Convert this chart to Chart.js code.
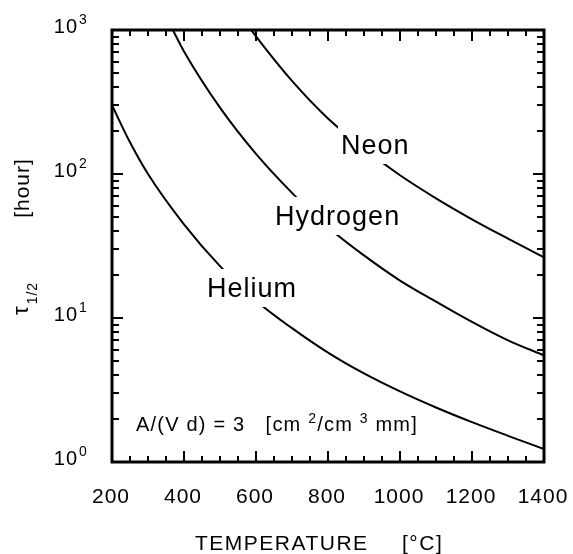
<!DOCTYPE html>
<html>
<head>
<meta charset="utf-8">
<script src="https://cdn.jsdelivr.net/npm/chart.js@4.4.1/dist/chart.umd.min.js"></script>
<style>
  body { margin: 0; background: #fff; }
  canvas { display: block; }
</style>
</head>
<body>
<canvas id="halfLifeChart" width="573" height="554"></canvas>
<script>
// Data (temperature in °C, tau in hours)
const heliumT = [200, 250, 300, 400, 500, 600, 700, 800, 900, 1000, 1100, 1200, 1300, 1400];
const heliumTau = [300, 166, 100, 44.7, 22.9, 13.2, 8.5, 5.75, 4.12, 3.09, 2.39, 1.89, 1.52, 1.23];

const hydrogenT = [369, 400, 500, 600, 700, 800, 900, 1000, 1100, 1200, 1300, 1400];
const hydrogenTau = [1000, 710, 289, 138, 74, 42.7, 27.2, 18.2, 13.0, 9.4, 7.0, 5.5];

const neonT = [587, 600, 700, 800, 900, 1000, 1100, 1200, 1300, 1400];
const neonTau = [1000, 903, 443, 243, 150, 98, 67.8, 48.5, 35.6, 26.4];

const xTicks = [200, 400, 600, 800, 1000, 1200, 1400];
const yTicks = [1, 10, 100, 1000];
const yTickExp = ['0', '1', '2', '3'];

const curveLabels = ['Neon', 'Hydrogen', 'Helium'];

const FONT = '"Liberation Sans", Arial, Helvetica, sans-serif';

function toPoints(xs, ys) {
    return xs.map((v, i) => ({ x: v, y: ys[i] }));
}

function lineSet(label, xs, ys) {
    return {
        label: label,
        data: toPoints(xs, ys),
        borderColor: '#000',
        borderWidth: 2,
        pointRadius: 0,
        fill: false,
        cubicInterpolationMode: 'monotone'
    };
}

// Draws the labels on the curves, inner ticks, frame and all axis text
const figurePlugin = {
    id: 'figure',
    afterDatasetsDraw(chart, args, opts) {
        const { ctx, scales: { x, y } } = chart;
        ctx.save();
        ctx.font = `27px ${FONT}`;
        ctx.letterSpacing = '1px';
        ctx.textBaseline = 'alphabetic';
        ctx.textAlign = 'left';
        curveLabels.forEach((txt, i) => {
            const px = x.getPixelForValue(opts.spots[i][0]);
            const py = y.getPixelForValue(opts.spots[i][1]);
            const w = ctx.measureText(txt).width;
            ctx.fillStyle = '#fff';
            ctx.fillRect(px - 3, py - 28, w + 4, 38);
            ctx.fillStyle = '#000';
            ctx.fillText(txt, px, py);
        });
        ctx.restore();
    },
    afterDraw(chart) {
        const { ctx, chartArea: a, scales: { x, y } } = chart;
        ctx.save();
        ctx.strokeStyle = '#000';
        ctx.fillStyle = '#000';

        // x ticks: major every 200, minor every 50, on bottom and top
        ctx.lineWidth = 2;
        for (let t = 200; t <= 1400; t += 50) {
            const px = Math.round(x.getPixelForValue(t));
            const len = (t % 200 === 0) ? 11 : 6;
            ctx.beginPath();
            ctx.moveTo(px, a.bottom); ctx.lineTo(px, a.bottom - len);
            ctx.moveTo(px, a.top); ctx.lineTo(px, a.top + len);
            ctx.stroke();
        }
        // y ticks: decades + 2..9
        for (let d = 1; d <= 1000; d *= 10) {
            for (let m = 1; m <= 9; m++) {
                const v = d * m;
                if (v > 1000) break;
                const py = Math.round(y.getPixelForValue(v));
                const len = m === 1 ? 11 : 7;
                ctx.beginPath();
                ctx.moveTo(a.left, py); ctx.lineTo(a.left + len, py);
                ctx.moveTo(a.right, py); ctx.lineTo(a.right - len, py);
                ctx.stroke();
            }
        }

        // frame
        ctx.lineWidth = 3;
        ctx.strokeRect(a.left, a.top, a.right - a.left, a.bottom - a.top);

        // x tick labels
        ctx.font = `21px ${FONT}`;
        ctx.letterSpacing = '1px';
        ctx.textAlign = 'center';
        ctx.textBaseline = 'alphabetic';
        xTicks.forEach(t => {
            ctx.fillText(String(t), x.getPixelForValue(t) - 1, a.bottom + 41);
        });

        // y tick labels 10^n
        yTicks.forEach((v, i) => {
            const py = y.getPixelForValue(v);
            ctx.font = `20px ${FONT}`;
            ctx.textAlign = 'right';
            ctx.fillText('10', a.left - 34, py + 3);
            ctx.font = `14px ${FONT}`;
            ctx.textAlign = 'left';
            ctx.fillText(yTickExp[i], a.left - 33, py - 6);
        });

        // x title
        ctx.font = `21px ${FONT}`;
        ctx.letterSpacing = '1.5px';
        ctx.textAlign = 'left';
        ctx.fillText('TEMPERATURE', a.left + 83, a.bottom + 88);
        ctx.fillText('[°C]', a.left + 290, a.bottom + 88);

        // y title: [hour] and tau_1/2, rotated
        ctx.letterSpacing = '1px';
        ctx.save();
        ctx.translate(29, (a.top + a.bottom) / 2 - 58);
        ctx.rotate(-Math.PI / 2);
        ctx.textAlign = 'center';
        ctx.font = `21px ${FONT}`;
        ctx.fillText('[hour]', 0, 0);
        ctx.restore();

        ctx.save();
        ctx.translate(28, (a.top + a.bottom) / 2 + 69);
        ctx.rotate(-Math.PI / 2);
        ctx.textAlign = 'left';
        ctx.font = `22px ${FONT}`;
        ctx.fillText('τ', 0, 0);
        const tw = ctx.measureText('τ').width;
        ctx.font = `14px ${FONT}`;
        ctx.fillText('1/2', tw + 1, 9);
        ctx.restore();

        // annotation A/(V d) = 3 [cm2/cm3 mm]
        const parts = [
            ['A/(V d) = 3   [cm ', 20, 0],
            ['2', 14, -8],
            ['/cm ', 20, 0],
            ['3', 14, -8],
            [' mm]', 20, 0]
        ];
        let cx = a.left + 24;
        const base = a.bottom - 31;
        ctx.textAlign = 'left';
        ctx.letterSpacing = '1.2px';
        parts.forEach(p => {
            ctx.font = `${p[1]}px ${FONT}`;
            ctx.fillText(p[0], cx, base + p[2]);
            cx += ctx.measureText(p[0]).width;
        });

        ctx.restore();
    }
};

const ctx = document.getElementById('halfLifeChart').getContext('2d');
new Chart(ctx, {
    type: 'line',
    data: {
        datasets: [
            lineSet('Helium', heliumT, heliumTau),
            lineSet('Hydrogen', hydrogenT, hydrogenTau),
            lineSet('Neon', neonT, neonTau)
        ]
    },
    options: {
        responsive: false,
        animation: false,
        devicePixelRatio: 1,
        layout: { padding: { left: 112, right: 29, top: 30, bottom: 92 } },
        plugins: {
            legend: { display: false },
            tooltip: { enabled: false },
            figure: { spots: [[836, 137.7], [653, 44.3], [464, 14.0]] }
        },
        scales: {
            x: {
                type: 'linear', min: 200, max: 1400,
                display: false
            },
            y: {
                type: 'logarithmic', min: 1, max: 1000,
                display: false
            }
        }
    },
    plugins: [figurePlugin]
});
</script>
</body>
</html>
